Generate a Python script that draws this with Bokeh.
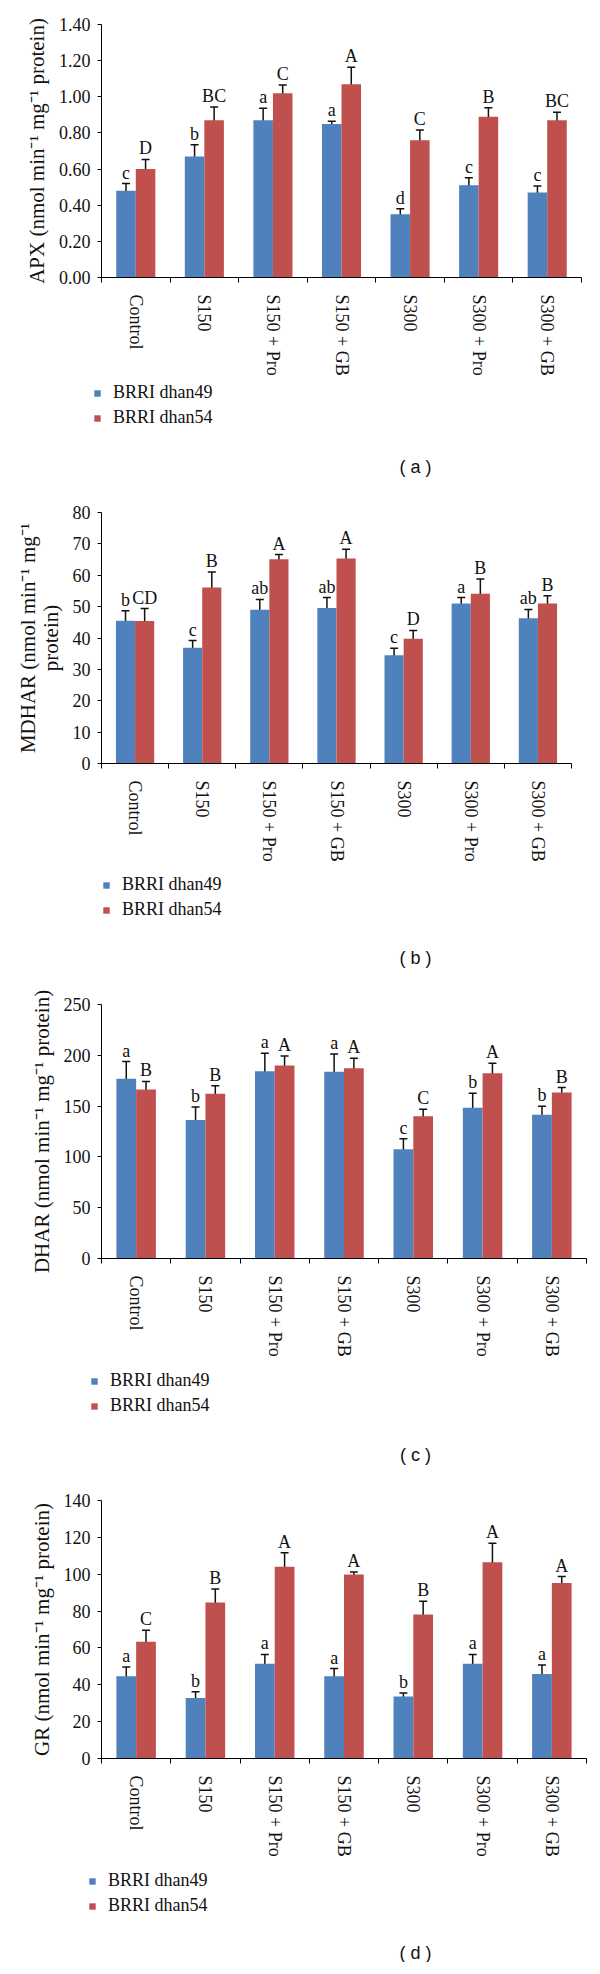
import numpy as np
from bokeh.plotting import figure
from bokeh.models import (ColumnDataSource, Whisker, TeeHead, FixedTicker, Legend,
                          LegendItem, Label, NumeralTickFormatter, Range1d)
from bokeh.layouts import column
from bokeh.embed import file_html
from bokeh.resources import INLINE
from bokeh.core.properties import value

categories = ["Control", "S150", "S150 + Pro", "S150 + GB", "S300", "S300 + Pro", "S300 + GB"]
series_names = ["BRRI dhan49", "BRRI dhan54"]

# (a) APX
apx_ticks = [0.0, 0.2, 0.4, 0.6, 0.8, 1.0, 1.2, 1.4]
apx_49 = [0.48, 0.67, 0.87, 0.85, 0.35, 0.51, 0.47]
apx_49_err = [0.04, 0.065, 0.067, 0.014, 0.03, 0.042, 0.037]
apx_54 = [0.60, 0.87, 1.02, 1.07, 0.76, 0.89, 0.87]
apx_54_err = [0.053, 0.074, 0.045, 0.093, 0.056, 0.05, 0.045]
apx_49_letters = ["c", "b", "a", "a", "d", "c", "c"]
apx_54_letters = ["D", "BC", "C", "A", "C", "B", "BC"]

# (b) MDHAR
mdhar_ticks = [0, 10, 20, 30, 40, 50, 60, 70, 80]
mdhar_49 = [45.5, 36.9, 49.0, 49.6, 34.5, 51.0, 46.3]
mdhar_49_err = [3.2, 2.3, 3.3, 3.3, 2.2, 1.9, 2.8]
mdhar_54 = [45.4, 56.1, 65.1, 65.3, 39.8, 54.1, 51.0]
mdhar_54_err = [4.0, 4.9, 1.5, 3.0, 2.6, 4.7, 2.5]
mdhar_49_letters = ["b", "c", "ab", "ab", "c", "a", "ab"]
mdhar_54_letters = ["CD", "B", "A", "A", "D", "B", "B"]

# (c) DHAR
dhar_ticks = [0, 50, 100, 150, 200, 250]
dhar_49 = [176.8, 136.2, 184.4, 183.7, 107.6, 148.3, 141.4]
dhar_49_err = [17.0, 12.8, 17.5, 17.7, 10.2, 14.3, 8.5]
dhar_54 = [166.3, 162.1, 190.0, 187.3, 140.1, 182.4, 163.4]
dhar_54_err = [8.0, 7.9, 9.4, 9.7, 6.9, 9.8, 4.8]
dhar_49_letters = ["a", "b", "a", "a", "c", "b", "b"]
dhar_54_letters = ["B", "B", "A", "A", "C", "A", "B"]

# (d) GR
gr_ticks = [0, 20, 40, 60, 80, 100, 120, 140]
gr_49 = [44.6, 32.8, 51.4, 44.6, 33.7, 51.4, 45.8]
gr_49_err = [5.1, 3.4, 5.1, 4.2, 1.8, 5.1, 4.9]
gr_54 = [63.4, 84.6, 104.0, 99.8, 78.1, 106.5, 95.3]
gr_54_err = [6.2, 7.4, 7.7, 1.4, 7.2, 10.3, 3.4]
gr_49_letters = ["a", "b", "a", "a", "b", "a", "a"]
gr_54_letters = ["C", "B", "A", "A", "B", "A", "A"]

COL_49 = "#4F81BD"
COL_54 = "#C0504D"
SERIF = "Liberation Serif"
SANS = "Liberation Sans"
TXT = "#111111"
W = 592


def make_main(v49, e49, v54, e54, l49, l54, ticks, fmt, ylabel,
              top_border, frame_h, left_border, frame_w):
    n = len(categories)
    centers = np.arange(n) + 0.5
    bw = 0.285
    p = figure(frame_width=frame_w, frame_height=frame_h,
               min_border_left=left_border, min_border_right=W - left_border - frame_w,
               min_border_top=top_border, min_border_bottom=100,
               x_range=Range1d(0, n), y_range=Range1d(0, ticks[-1]),
               output_backend="svg", toolbar_location=None, tools="")
    p.outline_line_color = None
    p.grid.visible = False

    for vals, errs, lets, off, col in ((v49, e49, l49, -bw / 2, COL_49),
                                       (v54, e54, l54, bw / 2, COL_54)):
        vals = np.array(vals, dtype=float)
        errs = np.array(errs, dtype=float)
        src = ColumnDataSource(dict(x=centers + off, top=vals,
                                    upper=vals + errs, lower=vals - errs,
                                    lab=lets))
        p.vbar(x="x", top="top", width=bw, bottom=0, source=src,
               fill_color=col, line_color=None)
        w = Whisker(source=src, base="x", upper="upper", lower="lower",
                    line_color=TXT, line_width=1.5,
                    upper_head=TeeHead(size=8, line_color=TXT, line_width=1.5),
                    lower_head=TeeHead(size=8, line_color=TXT, line_width=1.5))
        p.add_layout(w)
        p.text(x="x", y="upper", text="lab", source=src, text_align="center",
               text_baseline="bottom", y_offset=-1, text_font=value(SERIF),
               text_font_size="18px", text_color=TXT)

    xa = p.xaxis[0]
    xa.ticker = FixedTicker(ticks=list(centers), minor_ticks=list(np.arange(n + 1)))
    xa.major_label_overrides = {float(c): categories[i] for i, c in enumerate(centers)}
    xa.major_label_orientation = "vertical"
    xa.major_tick_line_color = None
    xa.major_tick_out = 0
    xa.major_tick_in = 0
    xa.minor_tick_out = 5
    xa.minor_tick_in = 0
    xa.minor_tick_line_color = "black"
    xa.major_label_standoff = 12
    xa.major_label_text_font = SERIF
    xa.major_label_text_font_size = "18px"
    xa.major_label_text_color = TXT
    xa.axis_line_color = "black"

    ya = p.yaxis[0]
    ya.ticker = FixedTicker(ticks=ticks)
    ya.formatter = NumeralTickFormatter(format=fmt)
    ya.major_tick_out = 4
    ya.major_tick_in = 0
    ya.minor_tick_line_color = None
    ya.major_label_standoff = 7
    ya.major_label_text_font = SERIF
    ya.major_label_text_font_size = "18px"
    ya.major_label_text_color = TXT
    ya.axis_line_color = "black"
    ya.axis_label = ylabel
    ya.axis_label_text_font = SERIF
    ya.axis_label_text_font_size = "21px"
    ya.axis_label_text_font_style = "normal"
    ya.axis_label_text_color = TXT
    ya.axis_label_text_line_height = 0.95
    ya.axis_label_standoff = 7
    return p


def make_footer(h, leg_x, leg_y, caption, cap_y):
    f = figure(frame_width=W, frame_height=h, min_border_left=0, min_border_right=0,
               min_border_top=0, min_border_bottom=0,
               x_range=Range1d(0, W), y_range=Range1d(0, h),
               x_axis_location=None, y_axis_location=None,
               output_backend="svg", toolbar_location=None, tools="")
    f.outline_line_color = None
    f.grid.visible = False
    # hidden legend proxies (placed outside the visible range)
    r1 = f.vbar(x=[-100], top=[0], width=1, fill_color=COL_49, line_color=None)
    r2 = f.vbar(x=[-100], top=[0], width=1, fill_color=COL_54, line_color=None)
    legend = Legend(items=[LegendItem(label=series_names[0], renderers=[r1]),
                           LegendItem(label=series_names[1], renderers=[r2])],
                    location=(leg_x, leg_y), orientation="vertical",
                    glyph_width=8, glyph_height=8, label_standoff=12,
                    label_text_font=SERIF, label_text_font_size="18px",
                    label_text_color=TXT, label_height=20, spacing=4,
                    padding=0, margin=0, border_line_alpha=0,
                    background_fill_alpha=0)
    f.add_layout(legend)
    cap = Label(x=314, y=cap_y, x_units="screen", y_units="screen",
                text=caption, text_font=SANS, text_font_size="18px",
                text_align="center", text_baseline="middle", text_color=TXT)
    f.add_layout(cap)
    return f


pa = make_main(apx_49, apx_49_err, apx_54, apx_54_err, apx_49_letters, apx_54_letters,
               apx_ticks, "0.00", "APX (nmol min\u207b\u00b9 mg\u207b\u00b9 protein)",
               24, 253, 91, 480)
fa = make_footer(105, 93, 55, "( a )", 17)
pb = make_main(mdhar_49, mdhar_49_err, mdhar_54, mdhar_54_err, mdhar_49_letters, mdhar_54_letters,
               mdhar_ticks, "0", "MDHAR (nmol min\u207b\u00b9 mg\u207b\u00b9\nprotein)",
               29, 251, 101, 470)
fb = make_footer(110, 102, 54, "( b )", 17)
pc = make_main(dhar_49, dhar_49_err, dhar_54, dhar_54_err, dhar_49_letters, dhar_54_letters,
               dhar_ticks, "0", "DHAR (nmol min\u207b\u00b9 mg\u207b\u00b9 protein)",
               30, 254, 86, 485)
fc = make_footer(106, 90, 49, "( c )", 11)
pd = make_main(gr_49, gr_49_err, gr_54, gr_54_err, gr_49_letters, gr_54_letters,
               gr_ticks, "0", "GR (nmol min\u207b\u00b9 mg\u207b\u00b9 protein)",
               35, 258, 86, 485)
fd = make_footer(103, 88, 46, "( d )", 10)

layout = column(pa, fa, pb, fb, pc, fc, pd, fd, spacing=0)
open("out.html", "w").write(file_html(layout, INLINE))
